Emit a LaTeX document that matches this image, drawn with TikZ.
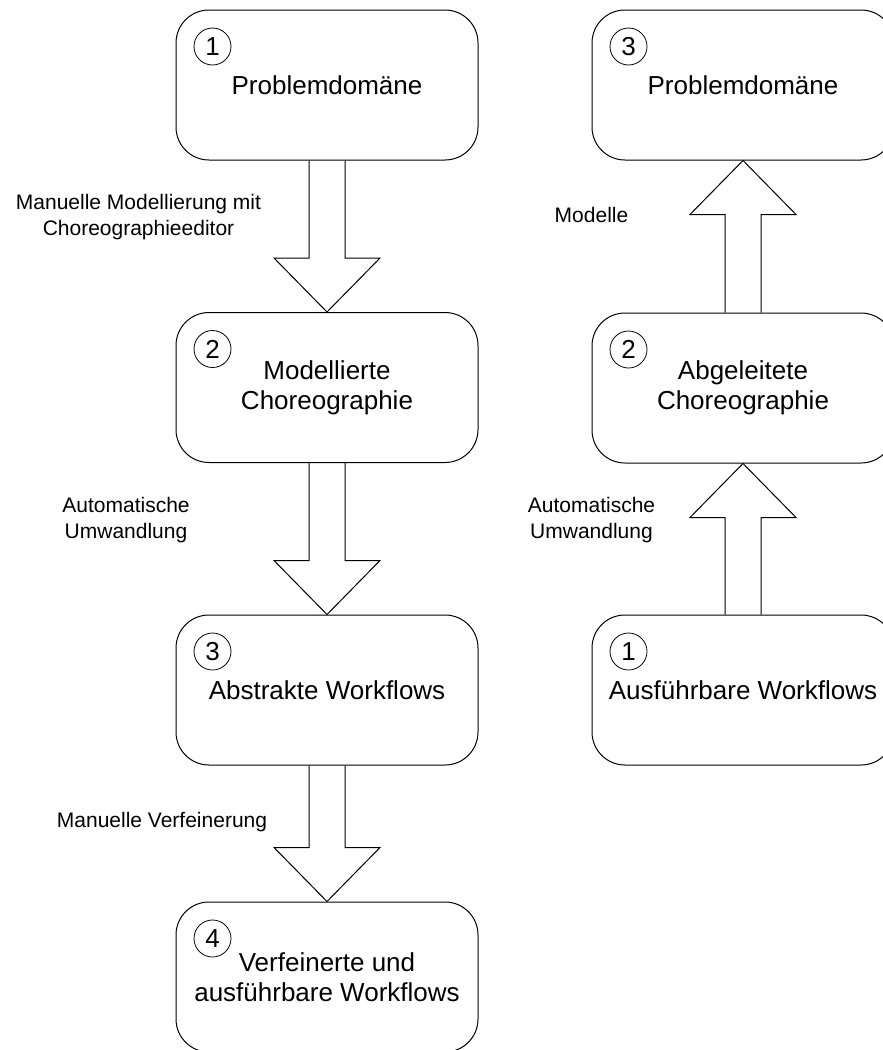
\documentclass[tikz,border=0pt]{standalone}
\usepackage{fontspec}
\setmainfont{Liberation Sans}
\usetikzlibrary{calc}

% Hollow block arrow from node anchor #1 to node anchor #2 (tip at #2)
\newcommand\flowarrow[2]{%
  \coordinate (hb) at ($(#2)!54pt!(#1)$);
  \draw[blockarrow]
    ($(#1)!18pt!90:(#2)$) -- ($(hb)!18pt!90:(#2)$) -- ($(hb)!53pt!90:(#2)$)
    -- (#2)
    -- ($(hb)!53pt!-90:(#2)$) -- ($(hb)!18pt!-90:(#2)$) -- ($(#1)!18pt!-90:(#2)$);
}

\begin{document}
\begin{tikzpicture}[x=1pt,y=-1pt,
  stage/.style={draw, line width=1pt, rounded corners=33pt,
    minimum width=302pt, minimum height=150pt, inner sep=0pt,
    align=center, font=\fontsize{26}{30}\selectfont},
  num/.style={draw, circle, line width=0.8pt, minimum size=37pt,
    inner sep=0pt, font=\fontsize{26}{30}\selectfont},
  lbl/.style={align=center, font=\fontsize{21}{25.5}\selectfont,
    anchor=base, inner sep=0pt},
  blockarrow/.style={draw, line width=1pt, line join=miter}]

\fill[white] (0,0) rectangle (883,1050);
\clip (0,0) rectangle (883,1050);
\useasboundingbox (0,0) rectangle (883,1050);

% left column: modelling direction
\node[stage] (L1) at (327,85)    {Problemdomäne};
\node[stage] (L2) at (327,387.5) {Modellierte\\Choreographie};
\node[stage] (L3) at (327,690)   {Abstrakte Workflows};
\node[stage] (L4) at (327,977)   {Verfeinerte und\\ausführbare Workflows};

% right column: derivation direction
\node[stage] (R3) at (743,85)    {Problemdomäne};
\node[stage] (R2) at (743,388)   {Abgeleitete\\Choreographie};
\node[stage] (R1) at (743,690)   {Ausführbare Workflows};

% step numbers
\node[num] (nL1) at ($(L1.north west)+(37,37)$) {1};
\node[num] (nL2) at ($(L2.north west)+(37,37)$) {2};
\node[num] (nL3) at ($(L3.north west)+(37,37)$) {3};
\node[num] (nL4) at ($(L4.north west)+(37,37)$) {4};
\node[num] (nR3) at ($(R3.north west)+(37,37)$) {3};
\node[num] (nR2) at ($(R2.north west)+(37,37)$) {2};
\node[num] (nR1) at ($(R1.north west)+(37,37)$) {1};

% transitions
\flowarrow{L1.south}{L2.north}
\flowarrow{L2.south}{L3.north}
\flowarrow{L3.south}{L4.north}
\flowarrow{R1.north}{R2.south}
\flowarrow{R2.north}{R3.south}

% transition labels (base anchor sits on the last line)
\node[lbl] (t1) at (138.5,235) {Manuelle Modellierung mit\\Choreographieeditor};
\node[lbl] (t2) at (126,538)   {Automatische\\Umwandlung};
\node[lbl] (t3) at (162,827)   {Manuelle Verfeinerung};
\node[lbl] (t4) at (591.5,222) {Modelle};
\node[lbl] (t5) at (591.5,538) {Automatische\\Umwandlung};
\end{tikzpicture}
\end{document}
